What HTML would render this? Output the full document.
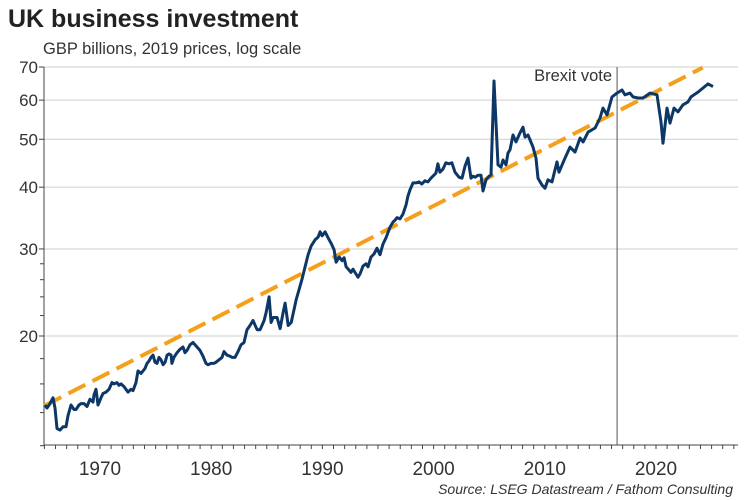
<!DOCTYPE html>
<html><head><meta charset="utf-8"><style>
body{margin:0;background:#fff;}
svg{display:block;font-family:"Liberation Sans",Arial,sans-serif;}
</style></head><body>
<svg id="chart" width="750" height="500">
<text x="8" y="27" font-size="25" font-weight="bold" fill="#222">UK business investment</text>
<text x="43" y="54" font-size="16.5" fill="#333">GBP billions, 2019 prices, log scale</text>
<text x="733" y="494" font-size="14" font-style="italic" fill="#333" text-anchor="end">Source: LSEG Datastream / Fathom Consulting</text>
<g id="grid"></g><g id="axes"></g><g id="marks"></g>
</svg>
<script>
const years=[1965.05,1965.23,1965.5,1965.77,1965.95,1966.13,1966.4,1966.67,1966.94,1967.12,1967.39,1967.66,1967.84,1968.11,1968.29,1968.56,1968.83,1969.1,1969.37,1969.46,1969.64,1969.82,1970.09,1970.27,1970.54,1970.81,1971.08,1971.26,1971.53,1971.71,1971.89,1972.16,1972.43,1972.52,1972.79,1972.97,1973.15,1973.24,1973.42,1973.69,1974.05,1974.23,1974.41,1974.59,1974.77,1974.95,1975.13,1975.31,1975.49,1975.67,1975.85,1976.03,1976.21,1976.39,1976.47,1976.65,1976.92,1977.19,1977.46,1977.64,1977.82,1978.09,1978.36,1978.63,1978.99,1979.26,1979.53,1979.71,1979.98,1980.25,1980.43,1980.7,1980.97,1981.15,1981.42,1981.69,1981.87,1982.14,1982.41,1982.68,1982.95,1983.22,1983.49,1983.76,1984.13,1984.4,1984.76,1984.94,1985.21,1985.39,1985.57,1985.93,1986.2,1986.47,1986.65,1986.92,1987.19,1987.46,1987.64,1987.9,1988.17,1988.44,1988.71,1988.98,1989.34,1989.61,1989.79,1989.97,1990.24,1990.51,1990.78,1991.05,1991.23,1991.5,1991.77,1991.95,1992.13,1992.39,1992.57,1992.75,1993.02,1993.2,1993.38,1993.65,1993.92,1994.1,1994.37,1994.64,1994.91,1995.18,1995.45,1995.72,1996.08,1996.35,1996.53,1996.71,1996.98,1997.25,1997.52,1997.7,1997.88,1998.15,1998.42,1998.69,1998.95,1999.22,1999.49,1999.76,1999.94,2000.21,2000.39,2000.57,2000.84,2001.11,2001.38,2001.65,2001.92,2002.28,2002.55,2002.82,2003.09,2003.36,2003.54,2003.72,2003.99,2004.26,2004.44,2004.71,2004.98,2005.16,2005.43,2005.79,2006.06,2006.24,2006.51,2006.69,2006.87,2007.14,2007.41,2007.77,2008.04,2008.22,2008.49,2008.94,2009.21,2009.39,2009.75,2010.02,2010.29,2010.65,2011.1,2011.28,2011.82,2012.27,2012.72,2013.17,2013.44,2013.89,2014.52,2014.96,2015.23,2015.59,2016.04,2016.49,2016.94,2017.21,2017.66,2017.93,2018.38,2018.83,2019.46,2020.09,2020.45,2020.63,2020.99,2021.26,2021.62,2021.98,2022.43,2022.88,2023.15,2023.42,2023.78,2024.23,2024.68,2025.13];
const values=[14.5,14.3,14.6,15.0,14.3,13.0,12.9,13.1,13.1,13.8,14.5,14.2,14.2,14.5,14.6,14.6,14.4,14.9,14.7,15.2,15.6,14.5,15.0,15.3,15.4,15.6,16.1,16.0,16.1,15.9,16.0,15.8,15.5,15.4,15.6,15.5,15.9,16.1,17.0,16.8,17.2,17.6,17.8,18.1,18.3,17.7,17.6,18.1,17.9,17.5,17.7,18.3,18.4,18.3,17.6,18.1,18.5,18.8,19.0,18.5,18.7,19.2,19.4,19.1,18.7,18.2,17.6,17.5,17.6,17.6,17.7,17.9,18.1,18.6,18.3,18.2,18.1,18.1,18.6,19.2,19.4,20.6,21.0,21.5,20.6,20.6,21.5,22.3,24.0,21.3,21.8,21.8,20.7,22.3,23.3,21.0,21.3,22.7,23.7,24.8,26.1,27.6,29.2,30.4,31.3,31.7,32.5,31.9,32.5,31.6,30.8,29.9,28.2,28.9,28.4,28.8,27.6,27.2,26.9,27.3,26.7,26.3,26.7,27.7,28.0,27.6,28.9,29.3,30.1,29.2,30.7,31.6,33.2,34.0,34.3,34.7,34.5,35.3,36.8,38.4,39.5,40.8,40.8,41.0,40.6,41.2,41.0,41.7,42.1,42.7,44.6,42.9,43.5,44.8,44.6,44.8,42.9,41.9,41.7,44.1,45.8,41.7,42.1,41.9,42.3,42.3,39.3,41.4,42.1,42.3,65.6,44.4,43.9,45.4,44.4,46.9,47.6,51.0,49.4,51.5,52.9,50.5,51.0,48.2,45.8,41.7,40.4,39.8,41.4,41.0,45.0,42.9,45.8,48.2,47.1,50.3,49.4,51.7,52.7,55.2,57.8,56.0,60.9,62.0,62.9,61.5,62.0,60.9,60.6,60.6,62.0,61.5,54.2,49.1,57.8,53.9,57.8,56.8,58.7,59.5,60.9,61.5,62.3,63.5,64.7,63.9];
const trendYears=[1965,2024.2];
const trendValues=[14.45,69.8];
const yTickValues=[20,30,40,50,60,70];
const yMinorValues=[12,14,16,18,22,24,26,28];
const xTickLabels=[1970,1980,1990,2000,2010,2020];
const brexitYear=2016.5;

const NS="http://www.w3.org/2000/svg";
const X0=44.4,PXY=11.12,Y20=336,PXL=214.7,LEFT=44,RIGHT=738,TOP=67,BOT=445;
function xs(y){return X0+(y-1965)*PXY;}
function ys(v){return Y20-Math.log(v/20)*PXL;}
function mk(tag,attrs,parent){const e=document.createElementNS(NS,tag);for(const k in attrs)e.setAttribute(k,attrs[k]);parent.appendChild(e);return e;}
const grid=document.getElementById('grid'),axes=document.getElementById('axes'),marks=document.getElementById('marks');

yTickValues.forEach(v=>{
  const y=ys(v);
  const g=mk('line',{x1:LEFT,x2:RIGHT,y1:y,y2:y,stroke:'#cfcfcf','stroke-width':1},grid);
  
  
  const t=mk('line',{x1:LEFT-5,x2:LEFT,y1:y,y2:y,stroke:'#444','stroke-width':1},axes);
  
  
  const l=mk('text',{x:LEFT-6,y:y+6,'font-size':17,fill:'#333','text-anchor':'end'},axes);
  l.textContent=v;
  
  
});
yMinorValues.forEach(v=>{
  const y=ys(v);
  const t=mk('line',{x1:LEFT-4,x2:LEFT,y1:y,y2:y,stroke:'#444','stroke-width':1},axes);
  
  
});
const ya=mk('line',{x1:LEFT,x2:LEFT,y1:TOP,y2:BOT,stroke:'#444','stroke-width':1},axes);


const xa=mk('line',{x1:LEFT,x2:RIGHT,y1:BOT,y2:BOT,stroke:'#444','stroke-width':1},axes);


for(let yr=1965;yr<=2027;yr++){
  const t=mk('line',{x1:xs(yr),x2:xs(yr),y1:BOT,y2:BOT+4,stroke:'#444','stroke-width':1},axes);
  
  
}
xTickLabels.forEach(yr=>{
  const l=mk('text',{x:xs(yr),y:475,'font-size':19,fill:'#333','text-anchor':'middle'},axes);
  l.textContent=yr;
  
  
});
const bx=xs(brexitYear);
const bl=mk('line',{x1:bx,x2:bx,y1:TOP,y2:BOT,stroke:'#555','stroke-width':1},marks);


const bt=mk('text',{x:bx-5,y:81,'font-size':16.5,fill:'#333','text-anchor':'end'},marks);
bt.textContent='Brexit vote';



const tr=mk('line',{x1:xs(trendYears[0]),y1:ys(trendValues[0]),x2:xs(trendYears[1]),y2:ys(trendValues[1]),stroke:'#f5a01a','stroke-width':4,'stroke-dasharray':'19 8'},marks);



const d=years.map((yr,i)=>(i?'L':'M')+xs(yr).toFixed(1)+' '+ys(values[i]).toFixed(1)).join(' ');
const p=mk('path',{d:d,fill:'none',stroke:'#0d3767','stroke-width':3,'stroke-linejoin':'round'},marks);


</script>
</body></html>
